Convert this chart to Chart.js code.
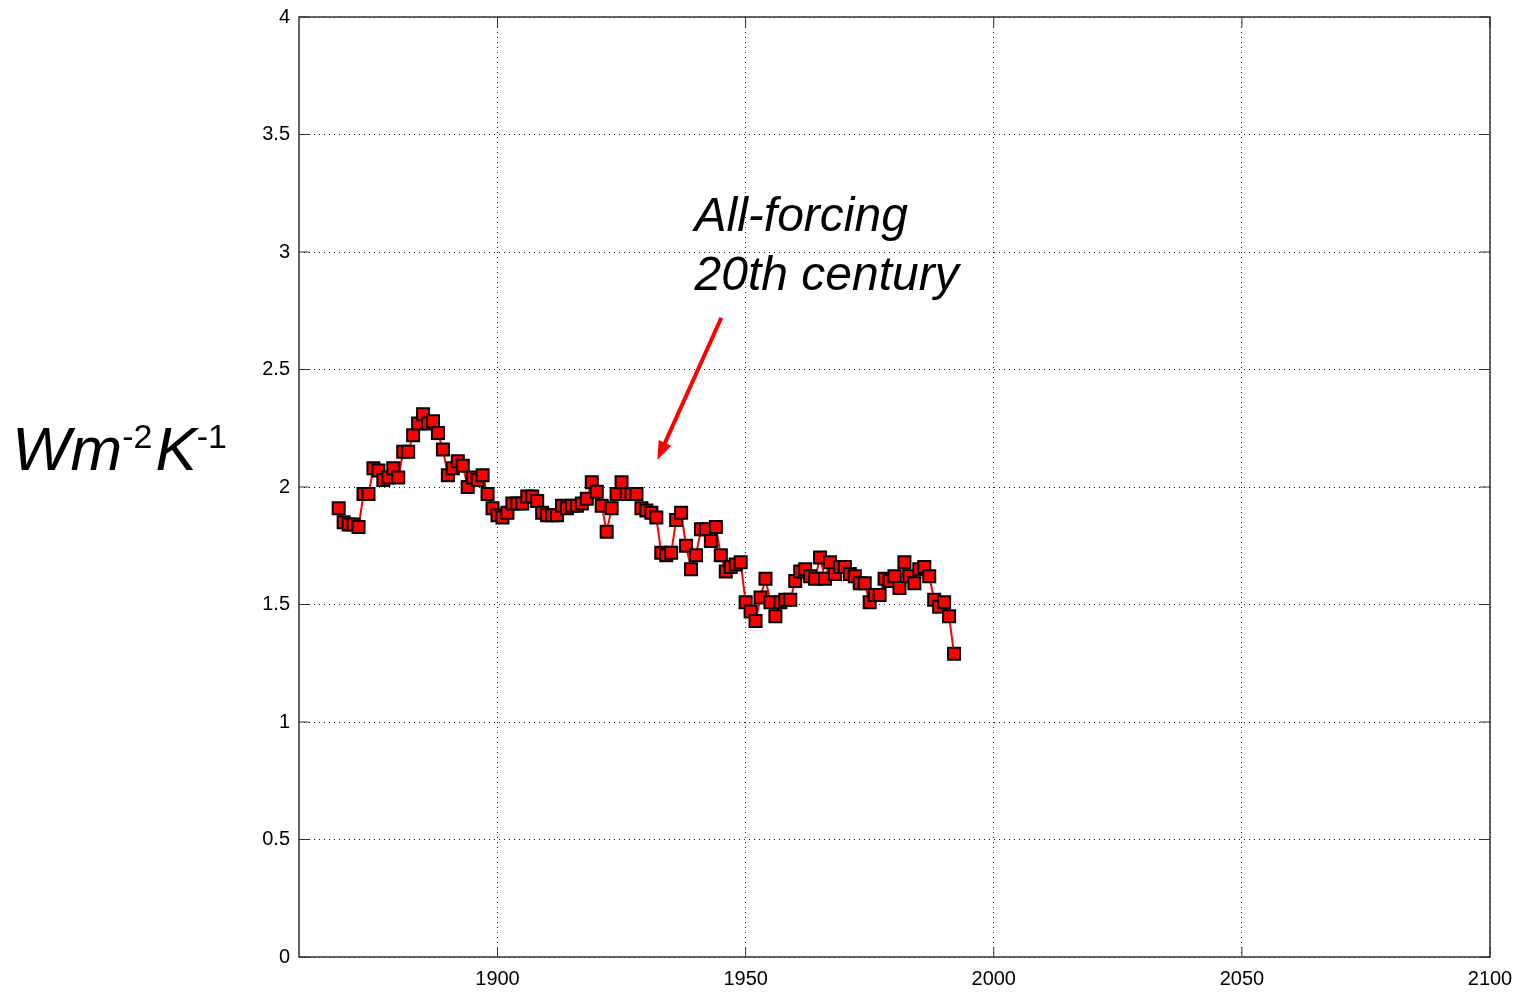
<!DOCTYPE html>
<html>
<head>
<meta charset="utf-8">
<title>All-forcing 20th century</title>
<script src="https://cdn.jsdelivr.net/npm/chart.js@4/dist/chart.umd.min.js"></script>
<style>
  body { margin: 0; background: #fff; }
  canvas { display: block; }
</style>
</head>
<body>
<canvas id="feedbackChart" width="1522" height="994"></canvas>
<script>
// years, one value per year
const firstYear = 1868;
const values = [
  1.91, 1.85, 1.84, 1.84, 1.83, 1.97, 1.97, 2.08, 2.07,
  2.03, 2.04, 2.08, 2.04, 2.15, 2.15, 2.22, 2.27, 2.31, 2.27,
  2.28, 2.23, 2.16, 2.05, 2.08, 2.11, 2.09, 2.00, 2.04, 2.03,
  2.05, 1.97, 1.91, 1.88, 1.87, 1.89, 1.93, 1.93, 1.93, 1.96, 1.96,
  1.94, 1.89, 1.88, 1.88, 1.88, 1.92, 1.91, 1.92, 1.92, 1.93,
  1.95, 2.02, 1.98, 1.92, 1.81, 1.91, 1.97, 2.02, 1.97, 1.97,
  1.97, 1.91, 1.90, 1.89, 1.87, 1.72, 1.71, 1.72, 1.86, 1.89,
  1.75, 1.65, 1.71, 1.82, 1.82, 1.77, 1.83, 1.71, 1.64, 1.66,
  1.67, 1.68, 1.51, 1.47, 1.43, 1.53, 1.61, 1.51, 1.45, 1.51,
  1.52, 1.52, 1.60, 1.64, 1.65, 1.62, 1.61, 1.70, 1.61, 1.68,
  1.63, 1.66, 1.66, 1.63, 1.62, 1.59, 1.59, 1.51, 1.54, 1.54,
  1.61, 1.60, 1.62, 1.57, 1.68, 1.62, 1.59, 1.65, 1.66, 1.62,
  1.52, 1.49, 1.51, 1.45, 1.29
];

const xTicks = [1900, 1950, 2000, 2050, 2100];
const yTicks = [0, 0.5, 1, 1.5, 2, 2.5, 3, 3.5, 4];

// annotation text and arrow, in data units
const noteLines = ["All-forcing", "20th century"];
const noteAt = { x: 1939.7, y: 3.09, lineGap: 0.25 };
const arrowFrom = { x: 1945.1, y: 2.72 };
const arrowTo = { x: 1932.2, y: 2.115 };

const points = values.map((v, i) => ({ x: firstYear + i, y: v }));

// frame round the plot with inward tick marks
const framePlugin = {
  id: "frame",
  afterDraw(chart) {
    const { ctx, chartArea: a, scales } = chart;
    ctx.save();
    ctx.strokeStyle = "#333";
    ctx.lineWidth = 1.5;
    ctx.strokeRect(a.left, a.top, a.right - a.left, a.bottom - a.top);
    ctx.lineWidth = 1;
    const len = 10;
    ctx.beginPath();
    xTicks.forEach(t => {
      const px = scales.x.getPixelForValue(t);
      ctx.moveTo(px, a.bottom); ctx.lineTo(px, a.bottom - len);
      ctx.moveTo(px, a.top); ctx.lineTo(px, a.top + len);
    });
    yTicks.forEach(t => {
      const py = scales.y.getPixelForValue(t);
      ctx.moveTo(a.left, py); ctx.lineTo(a.left + len, py);
      ctx.moveTo(a.right, py); ctx.lineTo(a.right - len, py);
    });
    ctx.stroke();
    ctx.restore();
  }
};

// big unit label on the left and the arrow note
const labelPlugin = {
  id: "labels",
  afterDraw(chart) {
    const { ctx, scales } = chart;
    ctx.save();
    ctx.fillStyle = "#000";
    ctx.textBaseline = "alphabetic";
    ctx.textAlign = "left";

    // Wm-2K-1
    let x = 12;
    const base = 470;
    const big = "italic 62px 'Liberation Sans', Arial, sans-serif";
    const small = "34px 'Liberation Sans', Arial, sans-serif";
    const parts = [["Wm", big, 0], ["-2", small, -22], ["K", big, 0], ["-1", small, -22]];
    parts.forEach(([txt, font, dy]) => {
      ctx.font = font;
      ctx.fillText(txt, x, base + dy);
      x += ctx.measureText(txt).width + (font === small ? 3 : 0);
    });

    // note text
    ctx.font = "italic 48px 'Liberation Sans', Arial, sans-serif";
    const nx = scales.x.getPixelForValue(noteAt.x);
    noteLines.forEach((line, i) => {
      const ny = scales.y.getPixelForValue(noteAt.y - i * noteAt.lineGap);
      ctx.fillText(line, nx, ny);
    });

    // arrow
    const x1 = scales.x.getPixelForValue(arrowFrom.x);
    const y1 = scales.y.getPixelForValue(arrowFrom.y);
    const x2 = scales.x.getPixelForValue(arrowTo.x);
    const y2 = scales.y.getPixelForValue(arrowTo.y);
    const ang = Math.atan2(y2 - y1, x2 - x1);
    const head = 20;
    ctx.strokeStyle = "#f00";
    ctx.fillStyle = "#f00";
    ctx.lineWidth = 4;
    ctx.beginPath();
    ctx.moveTo(x1, y1);
    ctx.lineTo(x2 - head * 0.8 * Math.cos(ang), y2 - head * 0.8 * Math.sin(ang));
    ctx.stroke();
    ctx.beginPath();
    ctx.moveTo(x2, y2);
    ctx.lineTo(x2 - head * Math.cos(ang - 0.35), y2 - head * Math.sin(ang - 0.35));
    ctx.lineTo(x2 - head * Math.cos(ang + 0.35), y2 - head * Math.sin(ang + 0.35));
    ctx.closePath();
    ctx.fill();
    ctx.restore();
  }
};

const tickFont = { family: "'Liberation Sans', Arial, sans-serif", size: 20 };

new Chart(document.getElementById("feedbackChart"), {
  type: "line",
  data: {
    datasets: [{
      data: points,
      borderColor: "#ff0000",
      borderWidth: 2,
      pointStyle: "rect",
      pointRadius: 8.5,
      pointBackgroundColor: "#ff0000",
      pointBorderColor: "#000",
      pointBorderWidth: 2,
      tension: 0
    }]
  },
  options: {
    responsive: false,
    animation: false,
    layout: { padding: { top: 17, right: 32, left: 0, bottom: 0 } },
    plugins: { legend: { display: false }, tooltip: { enabled: false } },
    scales: {
      x: {
        type: "linear",
        min: 1860,
        max: 2100,
        afterBuildTicks: s => { s.ticks = xTicks.map(v => ({ value: v })); },
        afterFit: s => { s.height = 37; s.paddingLeft = 0; s.paddingRight = 0; },
        ticks: { color: "#000", font: tickFont, padding: 10, maxRotation: 0, callback: v => String(v) },
        grid: { color: "#111", lineWidth: 1, drawTicks: false },
        border: { display: false, dash: [1, 4] }
      },
      y: {
        min: 0,
        max: 4,
        afterBuildTicks: s => { s.ticks = yTicks.map(v => ({ value: v })); },
        afterFit: s => { s.width = 299; s.paddingTop = 0; s.paddingBottom = 0; },
        ticks: { color: "#000", font: tickFont, padding: 9, callback: v => String(v) },
        grid: { color: "#111", lineWidth: 1, drawTicks: false },
        border: { display: false, dash: [1, 4] }
      }
    }
  },
  plugins: [framePlugin, labelPlugin]
});
</script>
</body>
</html>
